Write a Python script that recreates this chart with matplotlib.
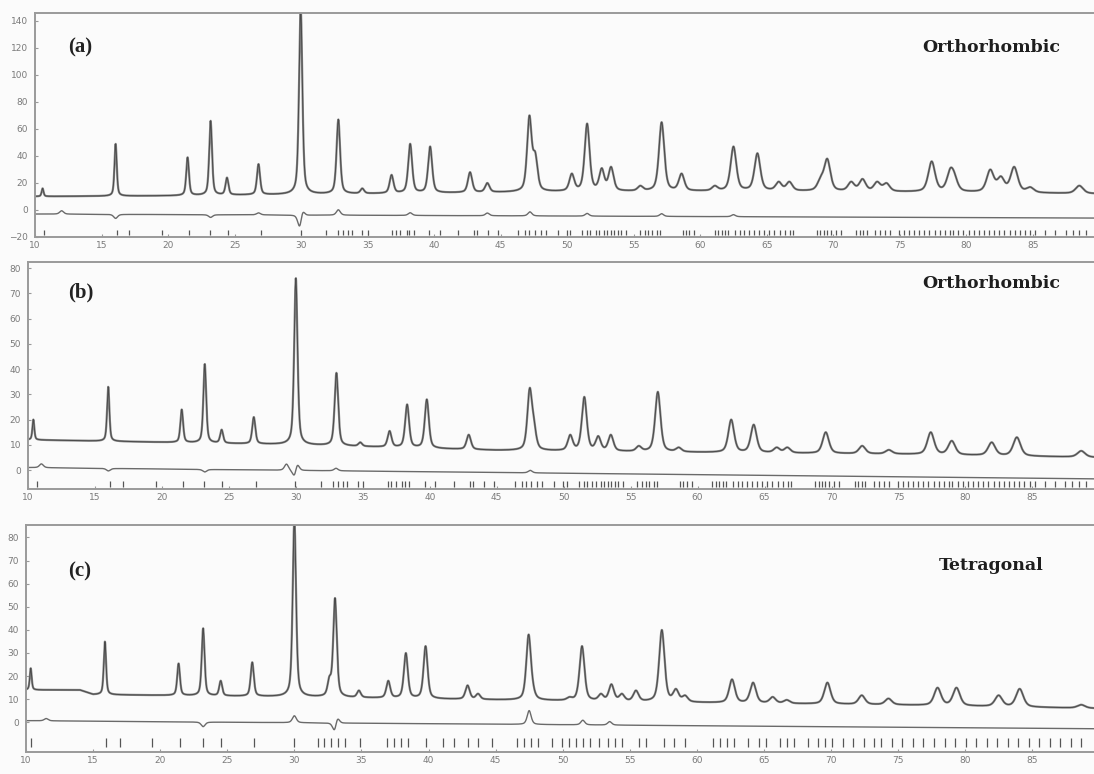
import numpy as np
import matplotlib
matplotlib.use('Agg')
import matplotlib.pyplot as plt

# peak positions (2theta) and apparent heights
a_pos = [10.57, 16.06, 21.47, 23.2, 24.43, 26.8, 29.97, 32.8, 34.6, 36.8, 38.2, 39.7,
         42.7, 44.0, 47.16, 47.6, 48.66, 50.35, 51.5, 52.6, 53.3, 55.5, 57.1, 58.6,
         61.1, 62.5, 64.3, 65.9, 66.7, 69.05, 69.55, 71.35, 72.2, 73.3, 74.0, 77.4,
         78.8, 79.1, 81.8, 82.6, 83.6, 84.8, 88.5]
a_hgt = [16, 49, 39, 66, 24, 34, 150, 67, 16, 26, 49, 47,
         28, 20, 70, 43, 14, 27, 64, 31, 32, 18, 65, 27,
         18, 47, 42, 21, 21, 25, 38, 21, 23, 21, 20, 36,
         31, 28, 30, 25, 32, 17, 18]
a_bg_x = [10, 20, 35, 50, 65, 80, 90]
a_bg_y = [10, 10.5, 12, 13.5, 14, 13, 12]

b_pos = [10.40, 15.99, 21.48, 23.20, 24.46, 26.86, 30.0, 33.03, 34.81, 37.0, 38.31, 39.78,
         42.91, 47.46, 47.77, 50.49, 51.54, 52.58, 53.52, 55.61, 57.03, 58.59, 62.51, 64.19,
         65.91, 66.70, 69.57, 72.29, 74.28, 77.41, 78.98, 81.96, 83.84, 88.65]
b_hgt = [20, 33, 24, 42, 16, 21, 76, 38.5, 11, 15.5, 26, 28,
         14, 32.5, 21, 14, 29, 13.5, 14, 9.6, 31, 9, 20, 18,
         9, 9, 15, 9.6, 8, 15, 11.6, 11, 13, 7.6]
b_bg_x = [10, 15, 30, 45, 60, 75, 90]
b_bg_y = [12, 11.5, 10, 7.8, 7, 6.3, 5]

c_pos = [10.35, 15.88, 21.37, 23.2, 24.51, 26.86, 30.0, 32.61, 33.03, 34.81, 37.0, 38.31,
         39.78, 42.91, 43.69, 47.46, 47.77, 50.49, 51.44, 52.85, 53.63, 54.41, 55.46, 57.39,
         58.44, 59.12, 62.62, 64.19, 65.65, 66.70, 69.73, 72.29, 74.28, 77.94, 79.35, 82.49,
         84.06, 88.65]
c_hgt = [23.4, 35, 25.5, 40.7, 18, 26, 88, 20, 53.8, 13.8, 18, 30,
         33, 16, 12.4, 38, 18.6, 11, 33, 12.4, 16.5, 12.4, 13.8, 40,
         14.5, 11.7, 18.6, 17.2, 11, 9.7, 17.2, 11.7, 10.3, 15, 15, 11.7,
         14.5, 7.6]
c_bg_x = [10, 14, 15, 30, 45, 60, 75, 90]
c_bg_y = [14, 14, 12, 11, 9.7, 8.5, 7.5, 6]

# difference curve: baseline level and small residual bumps
a_diff_x = [10, 90]
a_diff_y = [-3, -6]
a_res_pos = [12.0, 16.06, 23.2, 26.8, 29.9, 30.1, 32.8, 38.2, 44.0, 47.2, 51.5, 57.1, 62.5]
a_res_amp = [2.5, -3, -2, 1.5, -10, 5, 4, 2, 2, 3, 2, 2, 1.5]
b_diff_x = [10, 90]
b_diff_y = [1, -3.5]
b_res_pos = [11.0, 16.0, 23.2, 29.3, 29.9, 30.1, 33.0, 47.5]
b_res_amp = [1.5, -1, -1, 2.5, -3, 3, 1, 1]
c_diff_x = [10, 90]
c_diff_y = [0.7, -2.8]
c_res_pos = [11.5, 23.2, 30.0, 33.0, 33.2, 47.5, 51.5, 53.5]
c_res_amp = [1, -2, 3, -4, 3, 6, 2, 1.5]

# Bragg reflection markers
ortho_ticks = [10.64, 16.13, 17.09, 19.54, 21.55, 23.14, 24.48, 27.01, 29.97, 31.86, 32.81,
               33.14, 33.51, 33.84, 34.61, 35.0, 36.86, 37.11, 37.45, 37.96, 38.14, 38.48,
               39.64, 40.41, 41.83, 42.99, 43.25, 44.02, 44.79, 46.34, 46.86, 47.16, 47.58,
               48.02, 48.40, 49.30, 49.96, 50.22, 51.11, 51.50, 51.75, 52.14, 52.39, 52.78,
               53.03, 53.29, 53.55, 53.80, 54.06, 54.44, 55.47, 55.85, 56.11, 56.36, 56.75,
               57.0, 58.67, 58.92, 59.18, 59.56, 61.10, 61.36, 61.61, 61.87, 62.12, 62.64,
               63.02, 63.28, 63.66, 64.04, 64.43, 64.81, 65.20, 65.58, 65.97, 66.35, 66.73,
               66.99, 68.78, 69.04, 69.29, 69.55, 69.81, 70.19, 70.58, 71.73, 71.98, 72.24,
               72.50, 73.14, 73.52, 73.90, 74.29, 74.93, 75.31, 75.70, 76.08, 76.46, 76.85,
               77.23, 77.62, 78.0, 78.39, 78.77, 79.03, 79.41, 79.79, 80.18, 80.56, 80.95,
               81.33, 81.71, 82.10, 82.48, 82.87, 83.25, 83.63, 84.02, 84.40, 84.79, 85.17,
               85.94, 86.70, 87.47, 87.99, 88.50, 89.01]
tetra_ticks = [10.35, 15.99, 17.04, 19.39, 21.48, 23.20, 24.51, 26.97, 30.0, 31.78, 32.20,
               32.72, 33.24, 33.76, 34.91, 36.90, 37.42, 37.95, 38.47, 39.78, 41.08, 41.87,
               42.91, 43.70, 44.74, 46.57, 47.09, 47.62, 48.14, 49.18, 49.97, 50.49, 51.02,
               51.54, 52.06, 52.69, 53.37, 53.89, 54.41, 55.72, 56.24, 57.55, 58.33, 59.12,
               61.21, 61.73, 62.25, 62.78, 63.82, 64.61, 65.13, 66.17, 66.70, 67.22, 68.26,
               69.05, 69.57, 70.09, 70.88, 71.66, 72.45, 73.23, 73.75, 74.54, 75.32, 76.11,
               76.89, 77.67, 78.46, 79.24, 80.03, 80.81, 81.59, 82.38, 83.16, 83.95, 84.73,
               85.52, 86.30, 87.09, 87.87, 88.65]

x_ticks = list(range(10, 90, 5))
a_yticks = list(range(-20, 141, 20))
b_yticks = list(range(0, 81, 10))
c_yticks = list(range(0, 81, 10))


def pv(x, p, w, eta=0.5):
    g = np.exp(-4 * np.log(2) * ((x - p) / w) ** 2)
    l = 1 / (1 + ((x - p) / (w / 2)) ** 2)
    return eta * l + (1 - eta) * g


def pattern(x, pos, hgt, bgx, bgy):
    pos = np.array(pos, dtype=float)
    hgt = np.array(hgt, dtype=float)
    w = 0.1 + 0.0065 * pos
    A = pv(pos[:, None], pos[None, :], w[None, :])
    amp = np.linalg.solve(A, hgt - np.interp(pos, bgx, bgy))
    amp = np.clip(amp, 0, None)
    return np.interp(x, bgx, bgy) + (amp[None, :] * pv(x[:, None], pos[None, :], w[None, :])).sum(1)


def residual(x, dx, dy, rp, ra):
    y = np.interp(x, dx, dy)
    for p, a in zip(rp, ra):
        y = y + a * pv(x, p, 0.35)
    return y


twotheta = np.linspace(10, 90, 5000)
fg = '#4a4a4a'
lab = '#7a7a7a'

# rect, y range, label positions (figure fractions) per panel
panels = [
    dict(rect=[0.032, 0.6938, 0.968, 0.2898], ylim=(-20, 146), yt=a_yticks,
         pos=a_pos, hgt=a_hgt, bgx=a_bg_x, bgy=a_bg_y,
         dx=a_diff_x, dy=a_diff_y, rp=a_res_pos, ra=a_res_amp,
         ticks=ortho_ticks, tk=(-18.5, -15), tag='(a)', name='Orthorhombic',
         tag_y=0.939, name_y=0.939),
    dict(rect=[0.0256, 0.3682, 0.9744, 0.2937], ylim=(-7.5, 82.5), yt=b_yticks,
         pos=b_pos, hgt=b_hgt, bgx=b_bg_x, bgy=b_bg_y,
         dx=b_diff_x, dy=b_diff_y, rp=b_res_pos, ra=b_res_amp,
         ticks=ortho_ticks, tk=(-6.7, -4.5), tag='(b)', name='Orthorhombic',
         tag_y=0.622, name_y=0.634),
    dict(rect=[0.0238, 0.028, 0.9762, 0.294], ylim=(-13, 85.5), yt=c_yticks,
         pos=c_pos, hgt=c_hgt, bgx=c_bg_x, bgy=c_bg_y,
         dx=c_diff_x, dy=c_diff_y, rp=c_res_pos, ra=c_res_amp,
         ticks=tetra_ticks, tk=(-10.5, -7), tag='(c)', name='Tetragonal',
         tag_y=0.262, name_y=0.270),
]

fig = plt.figure(figsize=(10.94, 7.74), dpi=100)
fig.patch.set_facecolor('#fbfbfb')

for pn in panels:
    ax = fig.add_axes(pn['rect'])
    ax.set_facecolor('#fbfbfb')
    obs = pattern(twotheta, pn['pos'], pn['hgt'], pn['bgx'], pn['bgy'])
    ax.plot(twotheta, obs, color='#8a8a8a', lw=1.6)
    ax.plot(twotheta, obs, color=fg, lw=0.7)
    ax.plot(twotheta, residual(twotheta, pn['dx'], pn['dy'], pn['rp'], pn['ra']), color='#6a6a6a', lw=1.0)
    ax.vlines(pn['ticks'], pn['tk'][0], pn['tk'][1], color='#555555', lw=0.9)
    ax.set_xlim(10, 89.6)
    ax.set_ylim(*pn['ylim'])
    ax.set_xticks(x_ticks)
    ax.set_yticks(pn['yt'])
    ax.tick_params(direction='in', length=2.5, width=0.8, colors='#999999',
                   labelcolor=lab, labelsize=6.5)
    ax.tick_params(axis='x', pad=3)
    ax.tick_params(axis='y', pad=5)
    for s in ['left', 'top', 'bottom']:
        ax.spines[s].set_color('#9a9a9a')
        ax.spines[s].set_linewidth(1.4)
    ax.spines['right'].set_visible(False)
    fig.text(0.062, pn['tag_y'], pn['tag'], family='Liberation Serif',
             fontweight='bold', fontsize=15, color='#222222', va='center', ha='left')
    fig.text(0.906, pn['name_y'], pn['name'], family='DejaVu Serif',
             fontweight='bold', fontsize=12.5, color='#1e1e1e', va='center', ha='center')

fig.savefig('out.png', dpi=100, facecolor=fig.get_facecolor())
